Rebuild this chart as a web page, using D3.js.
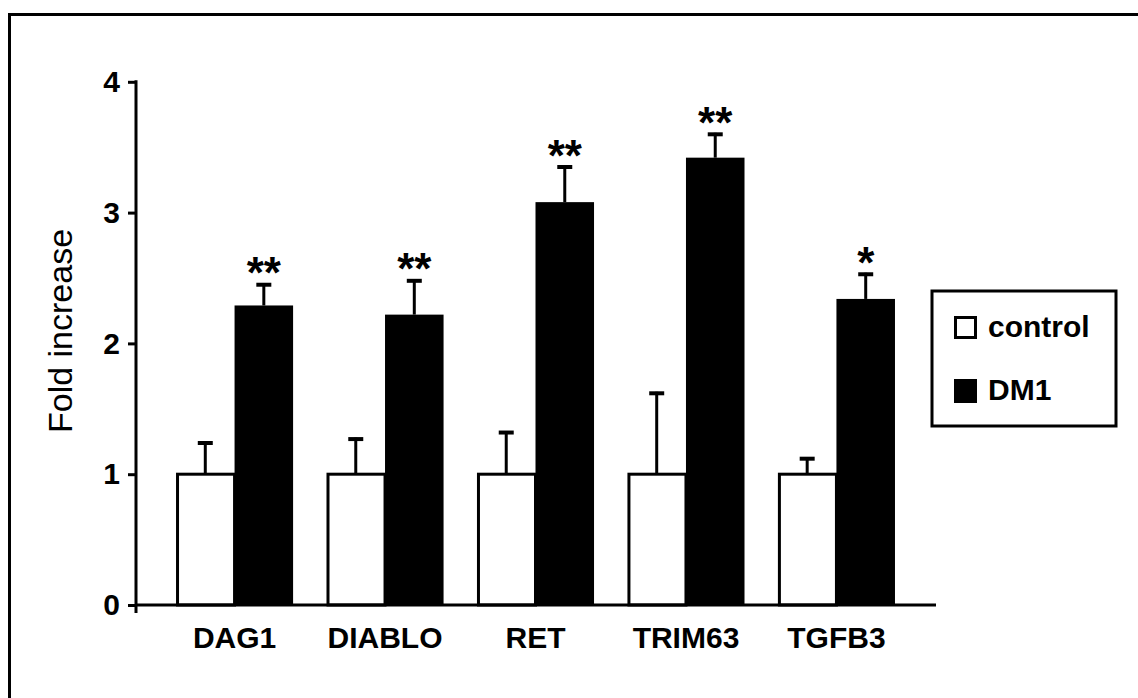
<!DOCTYPE html>
<html>
<head>
<meta charset="utf-8">
<script src="https://cdn.jsdelivr.net/npm/d3@7"></script>
<style>
  html, body { margin: 0; padding: 0; background: #fff; overflow: hidden; }
  svg { display: block; font-family: "Liberation Sans", Arial, sans-serif; }
</style>
</head>
<body>
<svg id="chart" width="1138" height="698"></svg>
<script>
// Gene expression fold change, control vs DM1
const genes = ["DAG1", "DIABLO", "RET", "TRIM63", "TGFB3"];
const seriesNames = ["control", "DM1"];
const controlMean = [1, 1, 1, 1, 1];
const controlErr = [0.25, 0.28, 0.33, 0.63, 0.13];
const dm1Mean = [2.29, 2.22, 3.08, 3.42, 2.34];
const dm1Err = [0.17, 0.27, 0.28, 0.19, 0.20];
const significance = ["**", "**", "**", "**", "*"];
const yTicks = [0, 1, 2, 3, 4];

const svg = d3.select("#chart");

// outer frame (right and bottom edges run past the canvas)
svg.append("rect")
  .attr("x", 9.5).attr("y", 14.5)
  .attr("width", 1200).attr("height", 800)
  .attr("fill", "none").attr("stroke", "#000").attr("stroke-width", 3);

const y = d3.scaleLinear().domain([0, 4]).range([605, 81.8]);
const x = d3.scaleBand().domain(genes).range([136, 935])
  .paddingInner(0.222).paddingOuter(0.266);
const xs = d3.scaleBand().domain(seriesNames).range([0, x.bandwidth()]);

// y axis
const yAxis = svg.append("g").attr("transform", "translate(136,0)")
  .call(d3.axisLeft(y).tickValues(yTicks).tickFormat(d3.format("d"))
    .tickSize(8).tickPadding(8));
yAxis.select(".domain").remove();
yAxis.selectAll(".tick line").attr("stroke", "#000").attr("stroke-width", 3);
yAxis.selectAll(".tick text")
  .attr("font-size", 30).attr("font-weight", "bold").attr("fill", "#000")
  .attr("font-family", "Liberation Sans, Arial, sans-serif");
svg.append("line")
  .attr("x1", 136).attr("x2", 136)
  .attr("y1", y(4) - 1.5).attr("y2", y(0) + 8)
  .attr("stroke", "#000").attr("stroke-width", 3);

// bars
const groups = svg.append("g").selectAll("g").data(genes).join("g")
  .attr("transform", d => `translate(${x(d)},0)`);

groups.append("rect")
  .attr("x", xs("control") + 1.5)
  .attr("y", (d, i) => y(controlMean[i]))
  .attr("width", xs.bandwidth() - 1.5)
  .attr("height", (d, i) => y(0) - y(controlMean[i]))
  .attr("fill", "#fff").attr("stroke", "#000").attr("stroke-width", 3);

groups.append("rect")
  .attr("x", xs("DM1"))
  .attr("y", (d, i) => y(dm1Mean[i]))
  .attr("width", xs.bandwidth())
  .attr("height", (d, i) => y(0) - y(dm1Mean[i]))
  .attr("fill", "#000");

// upward error bars with caps
function errorBar(sel, series, means, errs) {
  const cx = xs(series) + xs.bandwidth() / 2;
  sel.append("line")
    .attr("x1", cx).attr("x2", cx)
    .attr("y1", (d, i) => y(means[i]))
    .attr("y2", (d, i) => y(means[i] + errs[i]))
    .attr("stroke", "#000").attr("stroke-width", 3);
  sel.append("line")
    .attr("x1", cx - 7.5).attr("x2", cx + 7.5)
    .attr("y1", (d, i) => y(means[i] + errs[i]) + 1.5)
    .attr("y2", (d, i) => y(means[i] + errs[i]) + 1.5)
    .attr("stroke", "#000").attr("stroke-width", 4);
}
errorBar(groups, "control", controlMean, controlErr);
errorBar(groups, "DM1", dm1Mean, dm1Err);

// significance stars
groups.append("text")
  .attr("x", xs("DM1") + xs.bandwidth() / 2)
  .attr("y", (d, i) => y(dm1Mean[i] + dm1Err[i]) + 5)
  .attr("text-anchor", "middle")
  .attr("font-size", 44).attr("font-weight", "bold")
  .text((d, i) => significance[i]);

// x axis
const xAxis = svg.append("g").attr("transform", `translate(0,${y(0)})`)
  .call(d3.axisBottom(x).tickSize(0).tickSizeOuter(0).tickPadding(22));
xAxis.select(".domain").attr("stroke", "#000").attr("stroke-width", 3)
  .attr("d", "M136,0H936");
xAxis.selectAll(".tick text")
  .attr("font-size", 30).attr("font-weight", "bold").attr("fill", "#000")
  .attr("font-family", "Liberation Sans, Arial, sans-serif");

// y axis title
svg.append("text")
  .attr("transform", "translate(72,331) rotate(-90)")
  .attr("text-anchor", "middle")
  .attr("font-size", 34)
  .text("Fold increase");

// legend
const legend = svg.append("g");
legend.append("rect")
  .attr("x", 932).attr("y", 291).attr("width", 184).attr("height", 135)
  .attr("fill", "#fff").attr("stroke", "#000").attr("stroke-width", 3);
const legendY = d3.scalePoint().domain(seriesNames).range([316, 379]);
const items = legend.selectAll("g.item").data(seriesNames).join("g")
  .attr("class", "item")
  .attr("transform", d => `translate(954,${legendY(d)})`);
items.append("rect")
  .attr("x", d => d === "control" ? 1.5 : 0)
  .attr("y", d => d === "control" ? 1.5 : 0)
  .attr("width", d => d === "control" ? 20 : 23)
  .attr("height", d => d === "control" ? 20 : 24)
  .attr("fill", d => d === "control" ? "#fff" : "#000")
  .attr("stroke", d => d === "control" ? "#000" : "none")
  .attr("stroke-width", 3);
items.append("text")
  .attr("x", 34).attr("y", 21)
  .attr("font-size", 30).attr("font-weight", "bold")
  .text(d => d);
</script>
</body>
</html>
